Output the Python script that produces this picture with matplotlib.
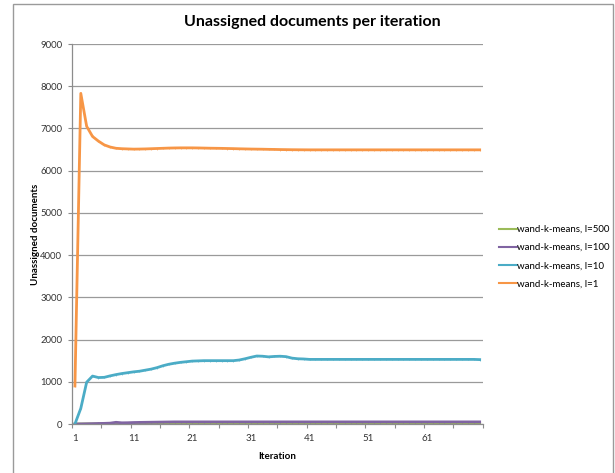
import numpy as np
import matplotlib.pyplot as plt
from matplotlib.patches import Rectangle

iterations = list(range(1, 71))

l1 = [900, 7830, 7050, 6810, 6700, 6610, 6560, 6530, 6520, 6515,
      6510, 6512, 6515, 6520, 6525, 6530, 6535, 6538, 6540, 6540,
      6540, 6538, 6535, 6532, 6530, 6528, 6525, 6522, 6518, 6515,
      6512, 6510, 6508, 6505, 6503, 6500, 6498, 6496, 6495, 6494,
      6493, 6493, 6493, 6493, 6493, 6493, 6493, 6493, 6493, 6493,
      6493, 6493, 6493, 6493, 6493, 6493, 6493, 6493, 6493, 6493,
      6493, 6493, 6493, 6493, 6493, 6493, 6493, 6493, 6493, 6493]

l10 = [0, 370, 990, 1135, 1100, 1105, 1140, 1170, 1195, 1215,
       1235, 1250, 1275, 1300, 1335, 1380, 1415, 1440, 1460, 1475,
       1490, 1495, 1500, 1500, 1500, 1500, 1500, 1500, 1515, 1545,
       1580, 1610, 1605, 1590, 1600, 1605, 1595, 1560, 1545, 1540,
       1530, 1530, 1530, 1530, 1530, 1530, 1530, 1530, 1530, 1530,
       1530, 1530, 1530, 1530, 1530, 1530, 1530, 1530, 1530, 1530,
       1530, 1530, 1530, 1530, 1530, 1530, 1530, 1530, 1530, 1525]

l100 = [0, 2, 5, 8, 12, 15, 20, 40, 28, 30,
        35, 38, 40, 42, 44, 46, 48, 50, 50, 50] + [50] * 50

l500 = [0, 1, 2, 3, 4, 5, 6, 7, 8, 8] + [8] * 60

series_labels = ["wand-k-means, l=500", "wand-k-means, l=100",
                 "wand-k-means, l=10", "wand-k-means, l=1"]
series_values = [l500, l100, l10, l1]
series_colors = ["#9BBB59", "#8064A2", "#4BACC6", "#F79646"]

x_tick_labels = [1, 11, 21, 31, 41, 51, 61]
y_ticks = list(range(0, 9001, 1000))

W, H = 615, 473
fig = plt.figure(figsize=(W / 100, H / 100), dpi=100)
plt.rcParams['font.family'] = ['Lato', 'DejaVu Sans']

# outer chart frame
fig.patches.append(Rectangle((12.5 / W, -0.05), (612.5 - 12.5) / W, (H - 4.5) / H + 0.05,
                             transform=fig.transFigure, fill=False,
                             edgecolor="#9a9a9a", linewidth=1.0))

ax = fig.add_axes([72 / W, 1 - 424 / H, (482.6 - 72) / W, (424 - 44) / H])

for vals, lab, col in zip(series_values, series_labels, series_colors):
    ax.plot(iterations, vals, color=col, linewidth=2.0, label=lab,
            marker='|', markersize=1.8, markeredgewidth=0.4,
            solid_joinstyle='round')

ax.set_xlim(0.5, 70.5)
ax.set_ylim(0, 9000)
ax.set_yticks(y_ticks)
ax.set_yticklabels([str(v) for v in y_ticks], fontsize=6.8, color="#333333")
ax.set_xticks(x_tick_labels)
ax.set_xticklabels([str(v) for v in x_tick_labels], fontsize=7, color="#333333")
ax.tick_params(axis='x', length=0, pad=7)
ax.set_xticks(np.arange(0.5, 70.6, 5), minor=True)
ax.tick_params(axis='x', which='minor', length=3, color="#8c8c8c", width=0.8)
ax.tick_params(axis='y', length=3, color="#8c8c8c", width=0.8, pad=4)

ax.grid(axis='y', color="#9a9a9a", linewidth=0.9)
ax.set_axisbelow(True)
for s in ['top', 'right']:
    ax.spines[s].set_visible(False)
for s in ['left', 'bottom']:
    ax.spines[s].set_color("#8c8c8c")
    ax.spines[s].set_linewidth(0.9)

ax.set_xlabel("Iteration", fontsize=7, fontweight='bold', labelpad=7)
ax.set_ylabel("Unassigned documents", fontsize=7, fontweight='bold',
              va='center', labelpad=0)
ax.yaxis.set_label_coords(-(72 - 35) / (482.6 - 72), 0.5)

fig.text(312 / W, 1 - 22 / H, "Unassigned documents per iteration",
         ha='center', va='center', fontsize=11.5, fontweight='bold')

leg = ax.legend(loc='center left', bbox_to_anchor=(1.03, 0.44), frameon=False,
                fontsize=7, handlelength=1.9, handletextpad=0.0,
                labelspacing=0.95, borderaxespad=0.0)
for line in leg.get_lines():
    line.set_marker('None')
    line.set_linewidth(1.5)

fig.savefig("out.png", dpi=100)
